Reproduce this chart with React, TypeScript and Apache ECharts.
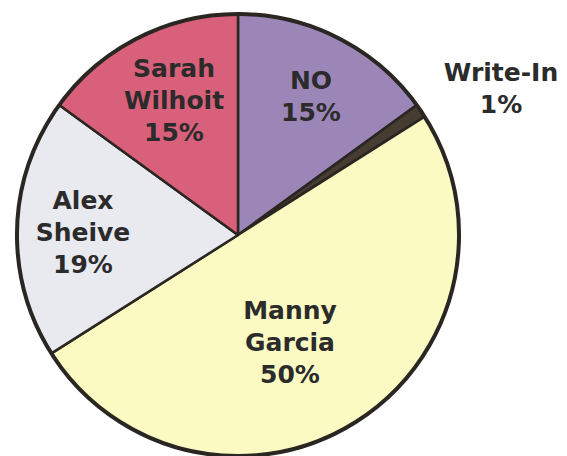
import React, { useEffect, useRef } from "react";
import * as echarts from "echarts";

const CATEGORIES = ["NO", "Write-In", "Manny Garcia", "Alex Sheive", "Sarah Wilhoit"];
const VALUES = [15, 1, 50, 19, 15];
const COLORS = ["#9c86b8", "#463c32", "#fbfac2", "#e9eaef", "#d8607a"];
// label block centres (styling)
const LABEL_POS: [number, number][] = [
  [311, 96],
  [501, 88],
  [290, 342],
  [83, 232],
  [174, 100],
];

export default function App() {
  const ref = useRef<HTMLDivElement>(null);
  useEffect(() => {
    document.body.style.margin = "0";
    const chart = echarts.init(ref.current!, null, { renderer: "svg" });
    const center = [238, 235];
    const radius = 221;
    chart.setOption({
      animation: false,
      backgroundColor: "#ffffff",
      series: [
        {
          type: "pie",
          center,
          radius,
          startAngle: 90,
          clockwise: true,
          percentPrecision: 0,
          avoidLabelOverlap: false,
          data: CATEGORIES.map((name, i) => ({
            name,
            value: VALUES[i],
            itemStyle: { color: COLORS[i] },
          })),
          itemStyle: { borderColor: "#2a2622", borderWidth: 2.5 },
          label: {
            show: true,
            position: "inside",
            formatter: (p: any) => `${p.name.replace(" ", "\n")}\n${p.percent}%`,
            fontFamily: "DejaVu Sans",
            fontWeight: "bold",
            fontSize: 25,
            lineHeight: 32,
            color: "#2b2b2b",
            align: "center",
          },
          labelLine: { show: false },
          labelLayout: (p: any) => ({
            x: LABEL_POS[p.dataIndex][0],
            y: LABEL_POS[p.dataIndex][1],
            align: "center",
            verticalAlign: "middle",
          }),
          emphasis: { disabled: true },
        },
        {
          type: "pie",
          center,
          radius,
          silent: true,
          data: [{ value: 1, name: "" }],
          itemStyle: { color: "rgba(0,0,0,0)", borderColor: "#2a2622", borderWidth: 4 },
          label: { show: false },
          labelLine: { show: false },
          emphasis: { disabled: true },
        },
      ],
    });
    return () => chart.dispose();
  }, []);
  return <div ref={ref} style={{ width: 567, height: 456 }} />;
}
